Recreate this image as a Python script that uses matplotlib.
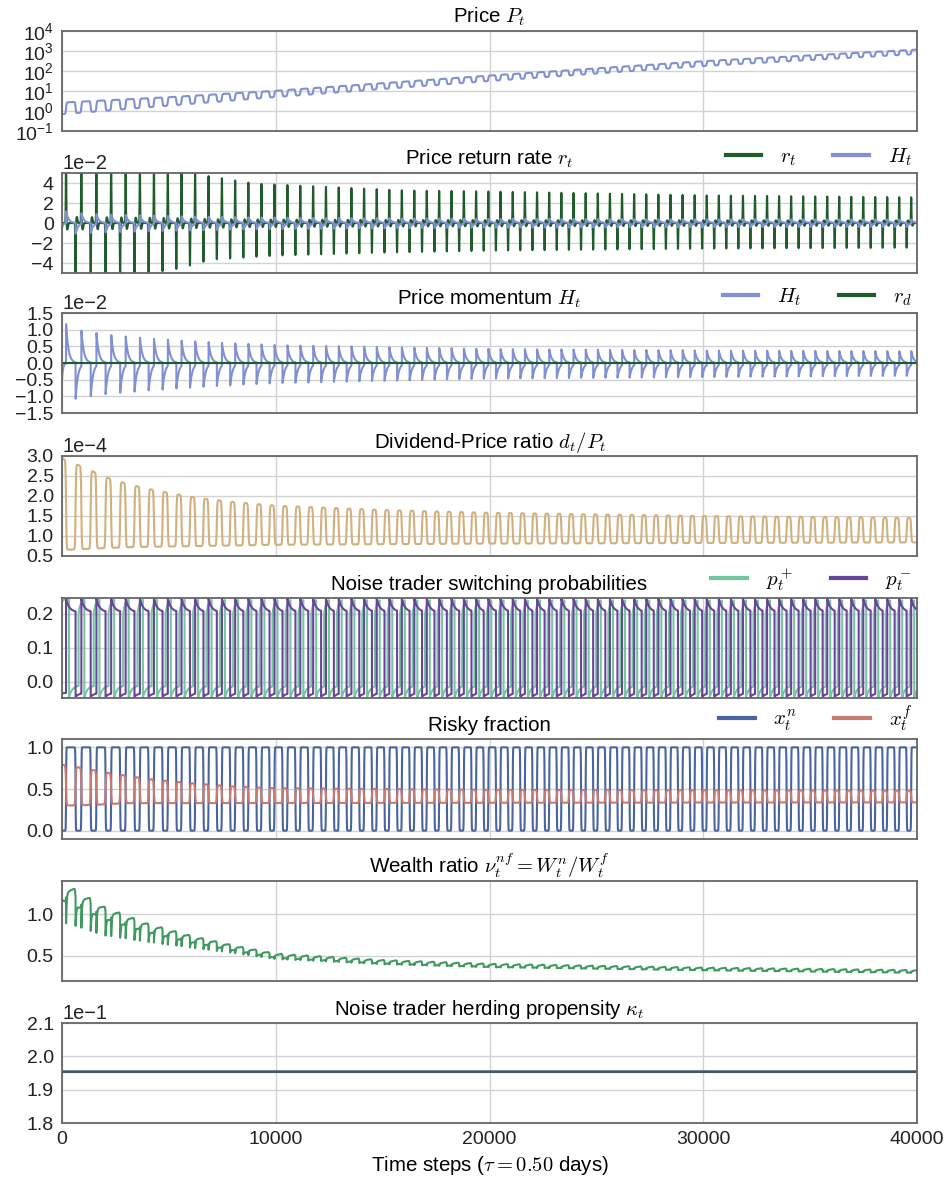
import numpy as np
import matplotlib
matplotlib.use("Agg")
import matplotlib.pyplot as plt
from matplotlib.ticker import MultipleLocator, ScalarFormatter, LogLocator, NullLocator

plt.rcParams["font.family"] = ["Liberation Sans", "DejaVu Sans"]
plt.rcParams["mathtext.fontset"] = "cm"
plt.rcParams["axes.unicode_minus"] = True
plt.rcParams["path.simplify"] = False

# ---------------- values ----------------
t_end = 40000
first_up = 190                      # first upward switch of the price
period_t = [0, 3000, 6000, 10000, 20000, 30000, 40000]
period_len = [720, 665, 630, 605, 570, 565, 560]   # steps per boom/bust cycle
up_share = 0.62                     # share of a cycle spent in the high-price state

# price P_t (log10 of low and high plateau)
price_t = [0, 10000, 20000, 30000, 40000]
price_low = [-0.16, 0.70, 1.50, 2.25, 2.85]
amp_t = [0, 5000, 10000, 20000, 30000, 40000]
price_amp = [0.58, 0.42, 0.31, 0.27, 0.24, 0.22]

# return rate spikes (units of 1)
ret_up_t = [0, 5000, 7000, 9000, 12000, 16000, 20000, 30000, 40000]
ret_up = [0.065, 0.055, 0.047, 0.040, 0.037, 0.033, 0.032, 0.028, 0.026]
ret_dn_t = [0, 3000, 5500, 7000, 10000, 15000, 20000, 30000, 40000]
ret_dn = [0.060, 0.055, 0.046, 0.037, 0.033, 0.030, 0.028, 0.026, 0.025]

# momentum peaks
mom_t = [0, 1000, 2000, 4000, 6000, 8000, 10000, 20000, 30000, 40000]
mom_up = [0.0124, 0.0108, 0.0097, 0.0085, 0.0076, 0.0069, 0.0063, 0.0050, 0.0045, 0.0042]
mom_dn = [0.0122, 0.0108, 0.0098, 0.0087, 0.0078, 0.0070, 0.0064, 0.0050, 0.0045, 0.0041]
mom_start = -0.005
rd_value = 0.0

# dividend-price ratio plateaus
dp_hi_t = [0, 1000, 2000, 3000, 4000, 6000, 8000, 10000, 15000, 20000, 30000, 40000]
dp_high = [2.94e-4, 2.72e-4, 2.48e-4, 2.31e-4, 2.18e-4, 1.98e-4, 1.85e-4, 1.76e-4,
           1.65e-4, 1.58e-4, 1.50e-4, 1.45e-4]
dp_lo_t = [0, 3000, 10000, 20000, 40000]
dp_low = [0.65e-4, 0.72e-4, 0.78e-4, 0.81e-4, 0.84e-4]

# noise trader switching probabilities (plateau levels)
pm_peak, pm_high, pm_low = 0.244, 0.205, -0.044
pp_peak, pp_high, pp_low = 0.244, 0.200, -0.046

# risky fractions
xf_t = [0, 1000, 2000, 3000, 4000, 6000, 8000, 10000, 20000, 40000]
xf_high = [0.79, 0.75, 0.70, 0.66, 0.62, 0.57, 0.53, 0.51, 0.49, 0.48]
xf_lo_t = [0, 1500, 3000, 40000]
xf_low = [0.30, 0.31, 0.33, 0.34]

# wealth ratio
w_t = [0, 2000, 4000, 6000, 8000, 10000, 15000, 20000, 30000, 40000]
w_level = [1.17, 0.95, 0.79, 0.67, 0.57, 0.48, 0.41, 0.37, 0.33, 0.30]
w_amp = [0.19, 0.12, 0.09, 0.07, 0.055, 0.045, 0.04, 0.035, 0.03, 0.03]
w_dip = [0.32, 0.24, 0.15, 0.09, 0.05, 0.03, 0.02, 0.015, 0.01, 0.01]

# herding propensity
kappa_value = 0.1954

# ---------------- build the series ----------------
t = np.arange(0, t_end + 1, 1.0)

ups, downs = [], []
tu = first_up
while tu < t_end + 800:
    per = np.interp(tu, period_t, period_len)
    ups.append(tu)
    downs.append(tu + up_share * per)
    tu += per
ups = np.array(ups)
downs = np.array(downs)


def smooth_state(tt, width):
    s = np.zeros_like(tt)
    for a, b in zip(ups, downs):
        s += 0.5 * (1 + np.tanh((tt - a) / width)) - 0.5 * (1 + np.tanh((tt - b) / width))
    return s


def phase(tt):
    k = np.searchsorted(ups, tt, side="right") - 1
    kk = np.clip(k, 0, None)
    in_up = (k >= 0) & (tt < downs[kk])
    dt = np.where(in_up, tt - ups[kk], np.where(k >= 0, tt - downs[kk], tt + 300))
    return in_up, dt


s = smooth_state(t, 25)
s_sharp = smooth_state(t, 12)
in_up, dt = phase(t)

log_price = np.interp(t, price_t, price_low) + np.interp(t, amp_t, price_amp) * s
price = 10 ** log_price

ret = np.zeros_like(t)
mom = mom_start * np.exp(-t / 50)
for a, b in zip(ups, downs):
    xa, xb = t - a, t - b
    ret += np.interp(a, ret_up_t, ret_up) * (np.exp(-0.5 * (xa / 12) ** 2)
                                             - 0.1 * np.exp(-0.5 * ((xa - 60) / 30) ** 2))
    ret -= np.interp(b, ret_dn_t, ret_dn) * (np.exp(-0.5 * (xb / 12) ** 2)
                                             - 0.1 * np.exp(-0.5 * ((xb - 60) / 30) ** 2))
    ga = np.where(xa >= 0, np.minimum(xa / 3, 1) * np.exp(-np.clip(xa, 0, None) / 110), 0)
    gb = np.where(xb >= 0, np.minimum(xb / 3, 1) * np.exp(-np.clip(xb, 0, None) / 110), 0)
    mom += np.interp(a, mom_t, mom_up) * ga - np.interp(b, mom_t, mom_dn) * gb
rd = np.full_like(t, rd_value)

dp = np.interp(t, dp_lo_t, dp_low) + (np.interp(t, dp_hi_t, dp_high)
                                      - np.interp(t, dp_lo_t, dp_low)) * (1 - s)

p_minus = np.where(in_up, pm_high + (pm_peak - pm_high) * np.exp(-dt / 150),
                   pm_low + 0.012 * (1 - np.exp(-dt / 200)))
in_up_g, dt_g = phase(t - 140)
p_plus = np.where(in_up_g, pp_low + 0.035 * (1 - np.exp(-dt_g / 150)),
                  pp_high + (pp_peak - pp_high) * (1 - np.exp(-dt_g / 100)))

x_n = s_sharp
x_f = np.interp(t, xf_lo_t, xf_low) + (np.interp(t, xf_t, xf_high)
                                       - np.interp(t, xf_lo_t, xf_low)) * (1 - s)

dips = np.zeros_like(t)
for a, b in zip(ups, downs):
    for c in (a, b):
        x = t - c
        dips += np.where(x >= 0, np.exp(-np.clip(x, 0, None) / 30), 0)
ramp = np.where(in_up, np.clip(dt / 400, 0, 1), 0)
wealth = (np.interp(t, w_t, w_level) + np.interp(t, w_t, w_amp) * s * (0.6 + 0.6 * ramp)
          - np.interp(t, w_t, w_dip) * dips)

kappa = np.full_like(t, kappa_value)

# ---------------- figure ----------------
W, H = 947, 1186
fig = plt.figure(figsize=(W / 100, H / 100), dpi=100)
left, right = 62, 917
tops = [31, 173, 313, 456, 598, 739, 881, 1023]
height = 100
axes = [fig.add_axes([left / W, 1 - (tp + height) / H, (right - left) / W, height / H])
        for tp in tops]

c_blue = "#7f90d3"
c_green_dark = "#1f5c2c"
fs_tick = 14
fs_title = 14.8

for i, ax in enumerate(axes):
    ax.set_facecolor("white")
    for sp in ax.spines.values():
        sp.set_color("#666666")
        sp.set_linewidth(1.3)
    ax.grid(True, color="#d2d2d2", linewidth=1.0)
    ax.set_axisbelow(True)
    ax.tick_params(length=0, labelsize=fs_tick, colors="#222222", pad=6)
    ax.set_xlim(0, t_end)
    ax.xaxis.set_major_locator(MultipleLocator(10000))
    if i < len(axes) - 1:
        ax.tick_params(labelbottom=False)


def sci(ax, step):
    ax.yaxis.set_major_locator(MultipleLocator(step))
    fmt = ScalarFormatter()
    fmt.set_powerlimits((0, 0))
    fmt.set_useOffset(False)
    ax.yaxis.set_major_formatter(fmt)
    ax.yaxis.get_offset_text().set_fontsize(14.3)


def legend(ax):
    leg = ax.legend(loc="lower right", bbox_to_anchor=(1.0, 1.0), ncol=2, frameon=False,
                    fontsize=15, borderaxespad=0, borderpad=0.25, handlelength=1.7,
                    handletextpad=0.9, columnspacing=1.8)
    for line in leg.get_lines():
        line.set_linewidth(3)


lw = 1.5

# Price
ax = axes[0]
ax.plot(t, price, color=c_blue, lw=lw)
ax.set_yscale("log")
ax.set_ylim(1e-1, 1e4)
ax.yaxis.set_major_locator(LogLocator(base=10, numticks=10))
ax.yaxis.set_minor_locator(NullLocator())
ax.set_title("Price $P_t$", fontsize=fs_title)

# Return rate
ax = axes[1]
ax.plot(t, ret, color=c_green_dark, lw=lw, label="$r_t$")
ax.plot(t, mom, color=c_blue, lw=lw, label="$H_t$")
ax.set_ylim(-0.05, 0.05)
sci(ax, 0.02)
ax.set_title("Price return rate $r_t$", fontsize=fs_title)
legend(ax)

# Momentum
ax = axes[2]
ax.plot(t, mom, color=c_blue, lw=lw, label="$H_t$")
ax.plot(t, rd, color=c_green_dark, lw=lw, label="$r_d$")
ax.set_ylim(-0.015, 0.015)
sci(ax, 0.005)
ax.set_title("Price momentum $H_t$", fontsize=fs_title)
legend(ax)

# Dividend-price ratio
ax = axes[3]
ax.plot(t, dp, color="#d2b07c", lw=lw)
ax.set_ylim(0.5e-4, 3.0e-4)
sci(ax, 0.5e-4)
ax.set_title("Dividend-Price ratio $d_t/P_t$", fontsize=fs_title)

# Switching probabilities
ax = axes[4]
ax.plot(t, p_plus, color="#72c79f", lw=lw, label="$p_t^+$")
ax.plot(t, p_minus, color="#6a449b", lw=lw, label="$p_t^-$")
ax.set_ylim(-0.048, 0.246)
ax.yaxis.set_major_locator(MultipleLocator(0.1))
ax.set_title("Noise trader switching probabilities", fontsize=fs_title)
legend(ax)

# Risky fraction
ax = axes[5]
ax.plot(t, x_n, color="#4a64a0", lw=lw, label="$x_t^n$")
ax.plot(t, x_f, color="#c9796e", lw=lw, label="$x_t^f$")
ax.set_ylim(-0.1, 1.1)
ax.yaxis.set_major_locator(MultipleLocator(0.5))
ax.set_title("Risky fraction", fontsize=fs_title)
legend(ax)

# Wealth ratio
ax = axes[6]
ax.plot(t, wealth, color="#3f9a5f", lw=lw)
ax.set_ylim(0.2, 1.4)
ax.yaxis.set_major_locator(MultipleLocator(0.5))
ax.set_title(r"Wealth ratio $\nu_t^{nf} = W_t^n/W_t^f$", fontsize=fs_title)

# Herding propensity
ax = axes[7]
ax.plot(t, kappa, color="#46566a", lw=2)
ax.set_ylim(0.18, 0.21)
sci(ax, 0.01)
ax.set_title(r"Noise trader herding propensity $\kappa_t$", fontsize=fs_title)
ax.set_xlabel(r"Time steps ($\tau = 0.50$ days)", fontsize=fs_title)

fig.savefig("out.png", dpi=100)
